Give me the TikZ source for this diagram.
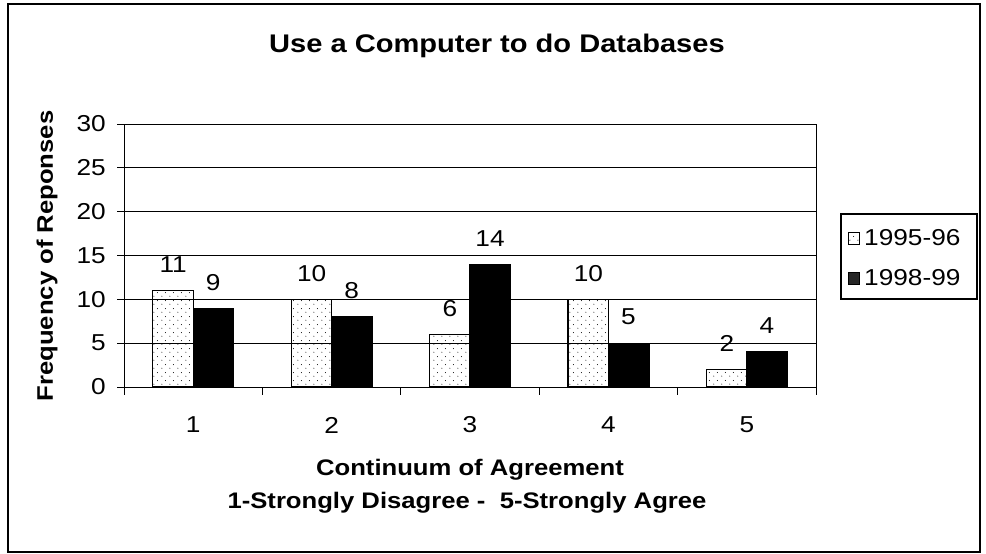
\documentclass[tikz,border=0pt]{standalone}
\usepackage{fontspec}
\setmainfont[FakeStretch=1.14]{Liberation Sans}
\usetikzlibrary{patterns.meta}
\tikzdeclarepattern{
  name=sparsedots,
  type=uncolored,
  bounding box={(0pt,0pt) and (8pt,8pt)},
  tile size={(8pt,8pt)},
  code={\fill (2pt,2pt) circle (0.55pt); \fill (6pt,6pt) circle (0.55pt);}
}
\begin{document}
\begin{tikzpicture}[x=1pt,y=-1pt,
  frame/.style={draw=black,line width=1.1pt},
  grid/.style={draw=black,line width=1pt},
  lightbar/.style={draw=black,line width=1.2pt,pattern=sparsedots,pattern color=black},
  darkbar/.style={draw=black,fill=black,line width=1.2pt},
  num/.style={font=\fontsize{23}{25}\selectfont,inner sep=0pt},
  axlabel/.style={font=\fontsize{22.5}{24}\selectfont\bfseries,inner sep=0pt},
  titletext/.style={font=\fontsize{25.5}{30}\selectfont\bfseries,inner sep=0pt}]
\useasboundingbox (0,0) rectangle (986,554);
\fill[white] (0,0) rectangle (986,554);
\draw[frame] (8,4) rectangle (980,552);
\node[titletext] (title) at (497,46) {Use a Computer to do Databases};
% grid
\foreach \v/\lab in {0/0,5/5,10/10,15/15,20/20,25/25,30/30}{
  \coordinate (gl\v) at (117,{387-\v*263/30});
  \coordinate (gr\v) at (816,{387-\v*263/30});
  \draw[grid] (gl\v) -- (gr\v);
  \node[num,anchor=east] (yt\v) at (106,{387-\v*263/30}) {\lab};
}
\coordinate (axtop) at (124,124);
\coordinate (axbot) at (124,395);
\draw[grid] (axtop) -- (axbot);
\coordinate (axrtop) at (816,124);
\coordinate (axrbot) at (816,395);
\draw[grid] (axrtop) -- (axrbot);
\foreach \i in {1,2,3,4}{
  \coordinate (tkt\i) at ({124+138.4*\i},387);
  \coordinate (tkb\i) at ({124+138.4*\i},395);
  \draw[grid] (tkt\i) -- (tkb\i);
}
% bars
\foreach \i/\a/\b in {1/11/9,2/10/8,3/6/14,4/10/5,5/2/4}{
  \pgfmathsetmacro{\c}{124+138.4*(\i-0.5)}
  \draw[lightbar] ({\c-40.5},387) rectangle (\c,{387-\a*263/30});
  \draw[darkbar] (\c,387) rectangle ({\c+40.5},{387-\b*263/30});
  \node[num] (la\i) at ({\c-20},{387-\a*263/30-26}) {\a};
  \node[num] (lb\i) at ({\c+20},{387-\b*263/30-26}) {\b};
  \node[num] (cat\i) at (\c,425) {\i};
}
% axis labels
\node[axlabel,rotate=90] (ylab) at (47,256) {Frequency of Reponses};
\node[axlabel] (xlab1) at (470,470) {Continuum of Agreement};
\node[axlabel] (xlab2) at (467,503) {1-Strongly Disagree -\ \ 5-Strongly Agree};
% legend
\draw[frame] (841,214) rectangle (977,299);
\draw[lightbar,line width=1pt] (848,232) rectangle (859,244);
\draw[darkbar,line width=1pt,fill=black!85] (848,272) rectangle (859,284);
\node[num,anchor=west] (leg1) at (864,238) {1995-96};
\node[num,anchor=west] (leg2) at (864,278) {1998-99};
\end{tikzpicture}
\end{document}
